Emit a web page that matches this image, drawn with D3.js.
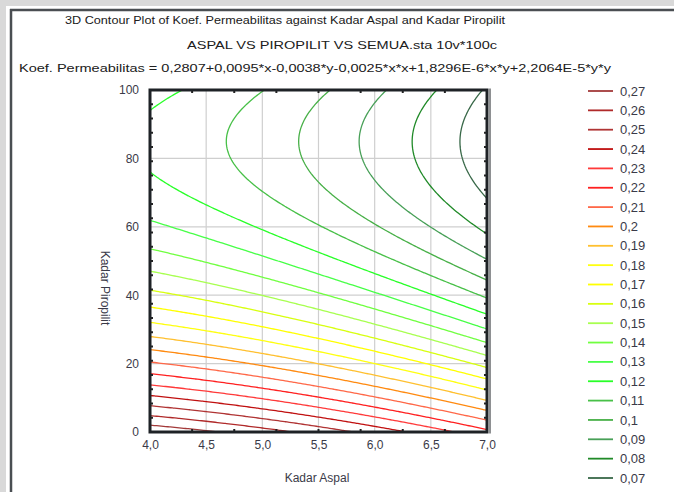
<!DOCTYPE html>
<html>
<head>
<meta charset="utf-8">
<script src="https://cdn.jsdelivr.net/npm/d3@7/dist/d3.min.js"></script>
<style>
  html, body { margin: 0; padding: 0; background: #d9d9d9; }
  svg { display: block; }
  text { font-family: "Liberation Sans", Arial, sans-serif; }
</style>
</head>
<body>
<script>
// ---- data ----
// fitted surface z = c0 + c1*x + c2*y + c3*x*x + c4*x*y + c5*y*y
// (coefficients read back from the contour positions in the picture; the printed equation is rounded)
const coefficients = [0.2781, 0.01017, -0.003753, -0.002584, 1.8296e-6, 2.203e-5];
const levels = [0.27, 0.26, 0.25, 0.24, 0.23, 0.22, 0.21, 0.2, 0.19, 0.18, 0.17,
                0.16, 0.15, 0.14, 0.13, 0.12, 0.11, 0.1, 0.09, 0.08, 0.07];
const levelLabels = ["0,27","0,26","0,25","0,24","0,23","0,22","0,21","0,2","0,19","0,18","0,17",
                     "0,16","0,15","0,14","0,13","0,12","0,11","0,1","0,09","0,08","0,07"];
const levelColors = ["#a33a3a","#b02a2a","#b03434","#c01010","#ff3a3a","#ff2020","#ff6848","#ff8a10",
                     "#ffc030","#ffff10","#ffff00","#d8ff10","#a8ff50","#70ff40","#48ff48","#28ff28",
                     "#48c048","#48b048","#48a058","#208a28","#386848"];
const xTicks = [4.0, 4.5, 5.0, 5.5, 6.0, 6.5, 7.0];
const xTickLabels = ["4,0","4,5","5,0","5,5","6,0","6,5","7,0"];
const yTicks = [0, 20, 40, 60, 80, 100];
const xDomain = [4, 7];
const yDomain = [0, 100];
const titleLines = [
  "3D Contour Plot of Koef. Permeabilitas against Kadar Aspal and Kadar Piropilit",
  "ASPAL VS PIROPILIT VS SEMUA.sta 10v*100c",
  "Koef. Permeabilitas = 0,2807+0,0095*x-0,0038*y-0,0025*x*x+1,8296E-6*x*y+2,2064E-5*y*y"
];
const xLabel = "Kadar Aspal";
const yLabel = "Kadar Piropilit";

// ---- layout ----
const W = 674, H = 492;
const plot = { left: 150, right: 487, top: 90, bottom: 432 };

const svg = d3.select("body").append("svg").attr("width", W).attr("height", H);

// page background / frame
svg.append("rect").attr("x", 6).attr("y", 6).attr("width", W - 6).attr("height", H - 6).attr("fill", "#ffffff");
svg.append("line").attr("x1", 11).attr("x2", 11).attr("y1", 9).attr("y2", H)
  .attr("stroke", "#4a4e52").attr("stroke-width", 2.5);
svg.append("line").attr("x1", 10).attr("x2", W).attr("y1", 10).attr("y2", 10)
  .attr("stroke", "#4a4e52").attr("stroke-width", 2.5);

// titles
const titleSpec = [
  { x: 65, y: 24, len: 440 },
  { x: 187, y: 49, len: 310 },
  { x: 19, y: 72, len: 592 }
];
titleLines.forEach((t, i) => {
  svg.append("text").attr("x", titleSpec[i].x).attr("y", titleSpec[i].y)
    .attr("font-size", 11.5).attr("fill", "#202020")
    .attr("textLength", titleSpec[i].len).attr("lengthAdjust", "spacingAndGlyphs")
    .text(t);
});

// scales
const x = d3.scaleLinear().domain(xDomain).range([plot.left, plot.right]);
const y = d3.scaleLinear().domain(yDomain).range([plot.bottom, plot.top]);
const color = d3.scaleOrdinal().domain(levels).range(levelColors);

// grid lines
const grid = svg.append("g");
grid.selectAll(".gx").data(xTicks.slice(1, -1)).join("line")
  .attr("x1", d => x(d)).attr("x2", d => x(d)).attr("y1", plot.top).attr("y2", plot.bottom)
  .attr("stroke", "#cfcfcf").attr("stroke-width", 1.2);
grid.selectAll(".gy").data(yTicks.slice(1, -1)).join("line")
  .attr("x1", plot.left).attr("x2", plot.right).attr("y1", d => y(d)).attr("y2", d => y(d))
  .attr("stroke", "#cfcfcf").attr("stroke-width", 1.2);

// contour computation on a sampled grid of the fitted surface
const nx = 151, ny = 201;
const surface = (xv, yv) => coefficients[0] + coefficients[1] * xv + coefficients[2] * yv +
  coefficients[3] * xv * xv + coefficients[4] * xv * yv + coefficients[5] * yv * yv;
const values = new Array(nx * ny);
for (let j = 0; j < ny; j++) {
  const yv = yDomain[0] + (yDomain[1] - yDomain[0]) * j / (ny - 1);
  for (let i = 0; i < nx; i++) {
    const xv = xDomain[0] + (xDomain[1] - xDomain[0]) * i / (nx - 1);
    values[j * nx + i] = surface(xv, yv);
  }
}
const contours = d3.contours().size([nx, ny]).thresholds(levels)(values);
const gx = c => x(xDomain[0] + (c - 0.5) * (xDomain[1] - xDomain[0]) / (nx - 1));
const gy = c => y(yDomain[0] + (c - 0.5) * (yDomain[1] - yDomain[0]) / (ny - 1));
const proj = d3.geoTransform({
  point: function(px, py) { this.stream.point(gx(px), gy(py)); }
});
const path = d3.geoPath(proj);

svg.append("clipPath").attr("id", "clip").append("rect")
  .attr("x", plot.left).attr("y", plot.top)
  .attr("width", plot.right - plot.left).attr("height", plot.bottom - plot.top);

svg.append("g").attr("clip-path", "url(#clip)")
  .selectAll("path").data(contours).join("path")
  .attr("d", path)
  .attr("fill", "none")
  .attr("stroke", d => color(d.value))
  .attr("stroke-width", 1.3)
  .attr("stroke-linejoin", "round");

// minor tick marks inside frame
const ticksG = svg.append("g").attr("stroke", "#222").attr("stroke-width", 2);
const xMinor = d3.range(1, 8).map(k => xDomain[0] + k * (xDomain[1] - xDomain[0]) / 8);
const yMinor = d3.range(1, 24).map(k => yDomain[0] + k * (yDomain[1] - yDomain[0]) / 24);
ticksG.selectAll(".tt").data(xMinor).join("line")
  .attr("x1", d => x(d)).attr("x2", d => x(d)).attr("y1", plot.top).attr("y2", plot.top + 3);
ticksG.selectAll(".tb").data(xMinor).join("line")
  .attr("x1", d => x(d)).attr("x2", d => x(d)).attr("y1", plot.bottom).attr("y2", plot.bottom - 3);
ticksG.selectAll(".tl").data(yMinor).join("line")
  .attr("x1", plot.left).attr("x2", plot.left + 3).attr("y1", d => y(d)).attr("y2", d => y(d));
ticksG.selectAll(".tr").data(yMinor).join("line")
  .attr("x1", plot.right).attr("x2", plot.right - 3).attr("y1", d => y(d)).attr("y2", d => y(d));

// frame
svg.append("rect").attr("x", plot.left).attr("y", plot.top)
  .attr("width", plot.right - plot.left).attr("height", plot.bottom - plot.top)
  .attr("fill", "none").attr("stroke", "#1e2226").attr("stroke-width", 3);
svg.append("line").attr("x1", plot.right + 3).attr("x2", plot.right + 3)
  .attr("y1", plot.top - 1.5).attr("y2", plot.bottom + 1.5)
  .attr("stroke", "#1e2226").attr("stroke-width", 1);

// axes
const xAxis = d3.axisBottom(x).tickValues(xTicks).tickFormat((d, i) => xTickLabels[i]).tickSize(0).tickPadding(6);
const yAxis = d3.axisLeft(y).tickValues(yTicks).tickSize(0).tickPadding(11);
const gxAxis = svg.append("g").attr("transform", `translate(0,${plot.bottom + 2})`).call(xAxis);
const gyAxis = svg.append("g").attr("transform", `translate(${plot.left},0)`).call(yAxis);
[gxAxis, gyAxis].forEach(g => {
  g.select(".domain").remove();
  g.selectAll("text").attr("font-size", 12).attr("fill", "#3a3a48")
    .attr("font-family", "'Liberation Sans', Arial, sans-serif");
});

// axis titles
svg.append("text").attr("x", 317).attr("y", 482).attr("text-anchor", "middle")
  .attr("font-size", 12).attr("fill", "#3a3a48").text(xLabel);
svg.append("text").attr("transform", "translate(101,288) rotate(90)").attr("text-anchor", "middle")
  .attr("font-size", 12).attr("fill", "#3a3a48").text(yLabel);

// legend
const ly = d3.scalePoint().domain(levels).range([91, 478]);
const leg = svg.append("g");
leg.selectAll("line").data(levels).join("line")
  .attr("x1", 588).attr("x2", 613).attr("y1", d => ly(d)).attr("y2", d => ly(d))
  .attr("stroke", d => color(d)).attr("stroke-width", 1.8);
leg.selectAll("text").data(levels).join("text")
  .attr("x", 620).attr("y", d => ly(d)).attr("dy", "0.35em")
  .attr("font-size", 13).attr("fill", "#3a3a48")
  .text((d, i) => levelLabels[i]);
</script>
</body>
</html>
